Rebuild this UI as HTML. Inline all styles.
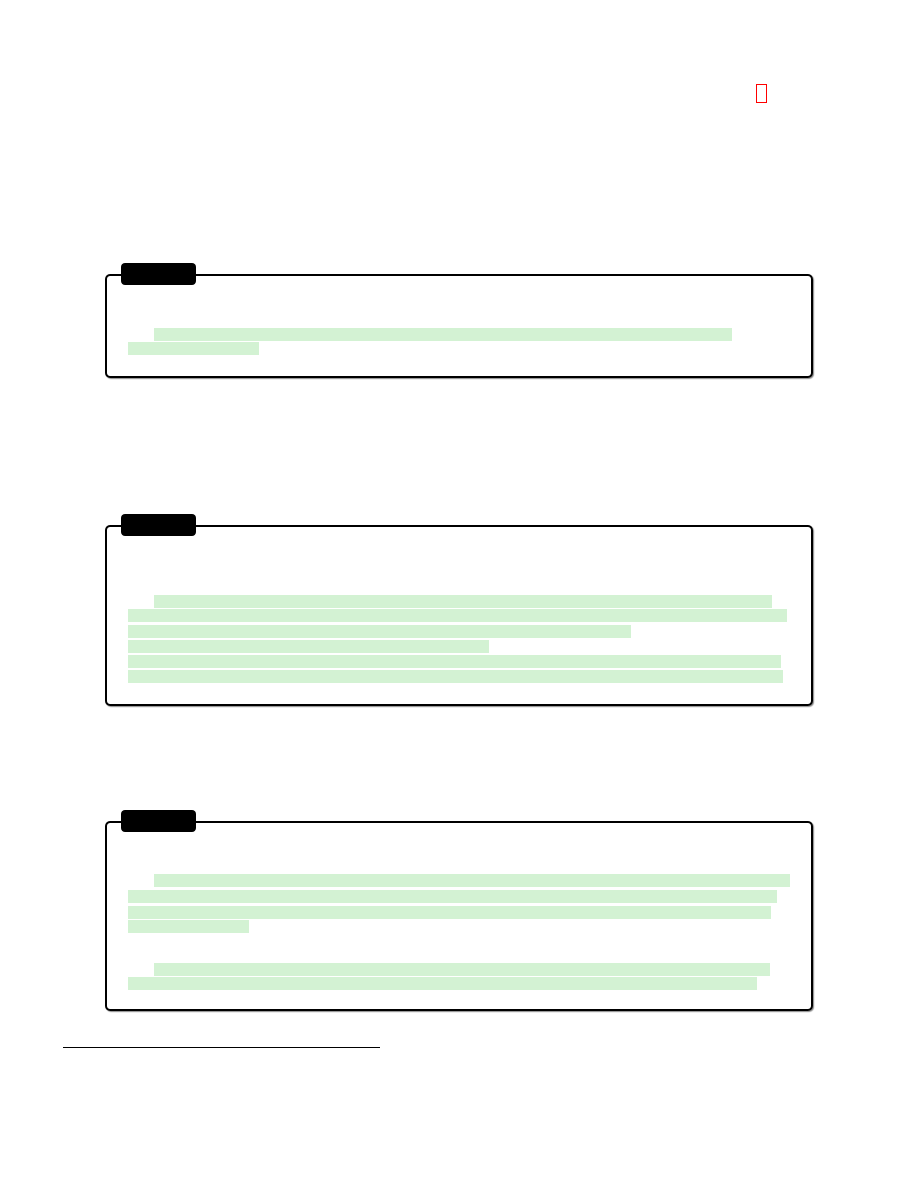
<!DOCTYPE html>
<html><head><meta charset="utf-8"><style>
html,body{margin:0;padding:0;background:#fff;}
body{width:918px;height:1188px;position:relative;overflow:hidden;font-family:"Liberation Sans",sans-serif;}
.box{position:absolute;border:2px solid #000;border-radius:5px;box-sizing:border-box;box-shadow:1px 1px 1px #888;}
.tab{position:absolute;background:#000;border-radius:4px;}
.hl{position:absolute;background:#d3f2d3;height:13px;}
</style></head><body>
<div style="position:absolute;left:756px;top:84px;width:11px;height:19px;border:1px solid #f00;box-sizing:border-box;"></div>

<div class="box" style="left:105px;top:274px;width:708px;height:104px;"></div>
<div class="tab" style="left:121px;top:263px;width:75px;height:22px;"></div>
<div class="hl" style="left:154px;top:328px;width:578px;"></div>
<div class="hl" style="left:128px;top:342px;width:131px;"></div>

<div class="box" style="left:105px;top:525px;width:708px;height:181px;"></div>
<div class="tab" style="left:121px;top:514px;width:75px;height:22px;"></div>
<div class="hl" style="left:154px;top:595px;width:618px;"></div>
<div class="hl" style="left:128px;top:609px;width:659px;"></div>
<div class="hl" style="left:128px;top:625px;width:503px;"></div>
<div class="hl" style="left:128px;top:640px;width:361px;"></div>
<div class="hl" style="left:128px;top:655px;width:653px;"></div>
<div class="hl" style="left:128px;top:670px;width:655px;"></div>

<div class="box" style="left:105px;top:821px;width:708px;height:190px;"></div>
<div class="tab" style="left:121px;top:810px;width:75px;height:22px;"></div>
<div class="hl" style="left:154px;top:874px;width:636px;"></div>
<div class="hl" style="left:128px;top:890px;width:649px;"></div>
<div class="hl" style="left:128px;top:906px;width:643px;"></div>
<div class="hl" style="left:128px;top:920px;width:121px;"></div>
<div class="hl" style="left:154px;top:963px;width:616px;"></div>
<div class="hl" style="left:128px;top:977px;width:629px;"></div>

<div style="position:absolute;left:63px;top:1047px;width:317px;height:1px;background:#000;"></div>
</body></html>
